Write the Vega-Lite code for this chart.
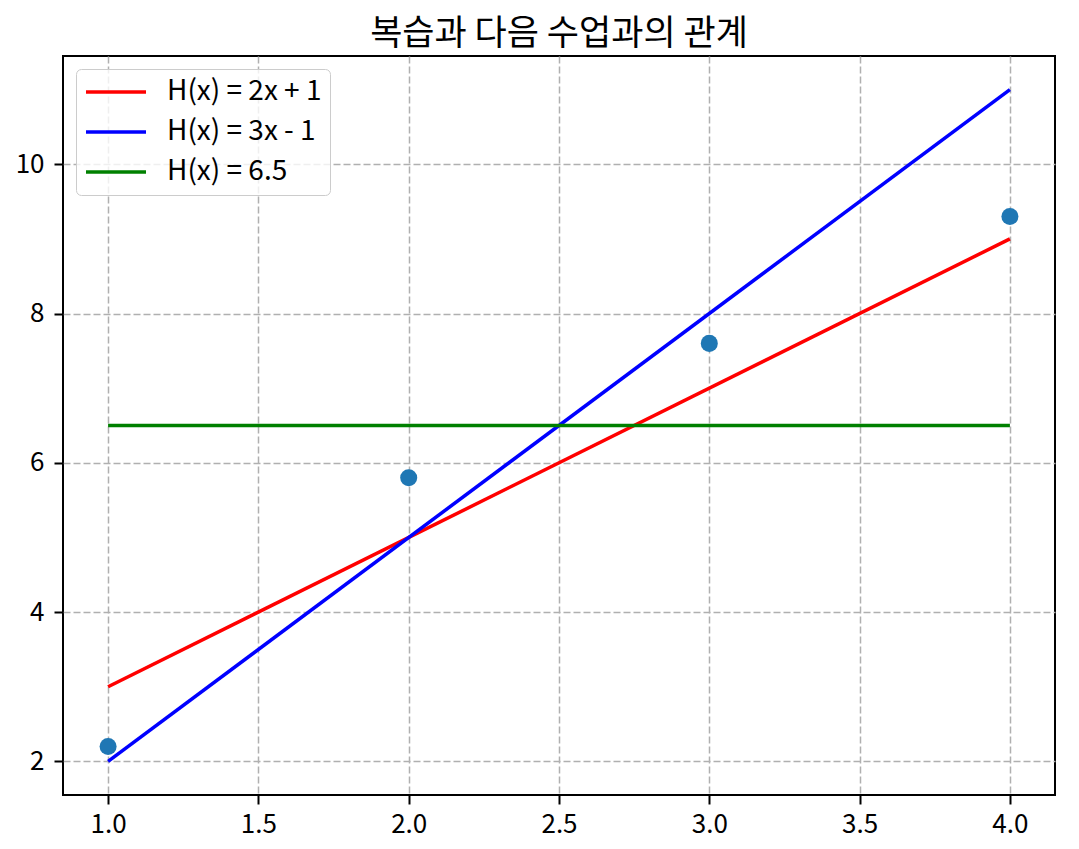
{
  "$schema": "https://vega.github.io/schema/vega-lite/v6.json",
  "width": 992,
  "height": 739,
  "autosize": {"type": "none"},
  "padding": {"left": 63, "top": 56, "right": 24, "bottom": 54},
  "background": "white",
  "title": {
    "text": "복습과 다음 수업과의 관계",
    "font": "Noto Sans CJK KR",
    "fontSize": 35,
    "fontWeight": "normal",
    "color": "#000000",
    "anchor": "middle",
    "offset": 4
  },
  "datasets": {
    "points": [
      {"x": 1, "y": 2.2},
      {"x": 2, "y": 5.8},
      {"x": 3, "y": 7.6},
      {"x": 4, "y": 9.3}
    ],
    "lines": [
      {"series": "H(x) = 2x + 1", "x": 1, "y": 3},
      {"series": "H(x) = 2x + 1", "x": 4, "y": 9},
      {"series": "H(x) = 3x - 1", "x": 1, "y": 2},
      {"series": "H(x) = 3x - 1", "x": 4, "y": 11},
      {"series": "H(x) = 6.5", "x": 1, "y": 6.5},
      {"series": "H(x) = 6.5", "x": 4, "y": 6.5}
    ]
  },
  "config": {
    "view": {"stroke": "#000000", "strokeWidth": 2},
    "axis": {
      "grid": true,
      "gridColor": "#b0b0b0",
      "gridDash": [7, 3],
      "gridWidth": 1.5,
      "domain": false,
      "ticks": true,
      "tickColor": "#000000",
      "tickWidth": 2,
      "tickSize": 9,
      "labelFont": "Noto Sans CJK KR",
      "labelFontSize": 26,
      "labelColor": "#000000",
      "title": null,
      "zindex": 1
    },
    "legend": {
      "orient": "top-left",
      "offset": 13,
      "padding": 8,
      "fillColor": "rgba(255,255,255,0.8)",
      "strokeColor": "#cccccc",
      "cornerRadius": 5,
      "symbolType": "stroke",
      "symbolSize": 3600,
      "symbolStrokeWidth": 3.5,
      "clipHeight": 30,
      "labelFont": "Noto Sans CJK KR",
      "labelFontSize": 28,
      "labelColor": "#000000",
      "labelOffset": 19,
      "rowPadding": 10,
      "title": null
    }
  },
  "layer": [
    {
      "data": {"name": "points"},
      "mark": {"type": "circle", "size": 290, "color": "#1f77b4", "opacity": 1, "zindex": 0},
      "encoding": {
        "x": {
          "field": "x", "type": "quantitative",
          "scale": {"domain": [0.85, 4.15], "nice": false, "zero": false},
          "axis": {"values": [1, 1.5, 2, 2.5, 3, 3.5, 4], "format": ".1f", "labelPadding": 7}
        },
        "y": {
          "field": "y", "type": "quantitative",
          "scale": {"domain": [1.55, 11.45], "nice": false, "zero": false},
          "axis": {"values": [2, 4, 6, 8, 10], "format": "d", "labelPadding": 10}
        }
      }
    },
    {
      "data": {"name": "lines"},
      "mark": {"type": "line", "strokeWidth": 3.5, "zindex": 2},
      "encoding": {
        "x": {"field": "x", "type": "quantitative"},
        "y": {"field": "y", "type": "quantitative"},
        "color": {
          "field": "series", "type": "nominal",
          "scale": {
            "domain": ["H(x) = 2x + 1", "H(x) = 3x - 1", "H(x) = 6.5"],
            "range": ["#ff0000", "#0000ff", "#008000"]
          },
          "legend": {}
        }
      }
    }
  ]
}
